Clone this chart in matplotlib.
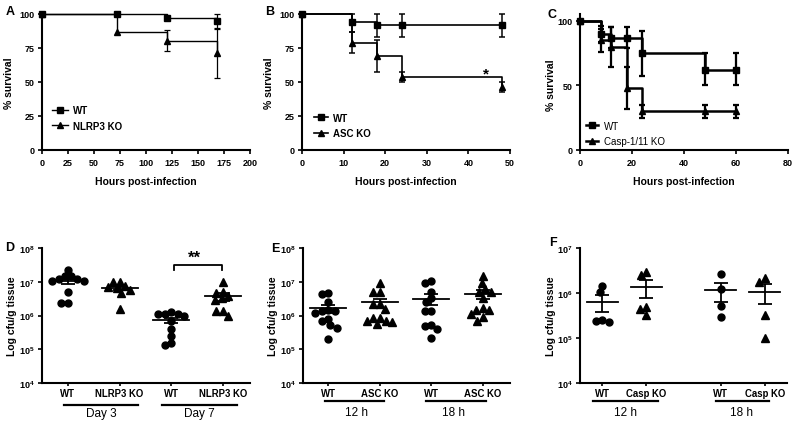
import numpy as np
import matplotlib
matplotlib.use('Agg')
import matplotlib.pyplot as plt
from matplotlib.lines import Line2D
from matplotlib.ticker import NullLocator

plt.rcParams['font.family'] = ['Liberation Sans', 'DejaVu Sans']
plt.rcParams['mathtext.fontset'] = 'custom'
plt.rcParams['mathtext.rm'] = 'Liberation Sans'
plt.rcParams['mathtext.bf'] = 'Liberation Sans:bold'
plt.rcParams['mathtext.it'] = 'Liberation Sans:italic'

# ---------------- data ----------------
# Panel A: NLRP3 survival
a_wt_t = [0, 72, 120, 168]
a_wt_s = [100, 100, 97, 95]
a_wt_lo = [100, 100, 97, 90]
a_wt_hi = [100, 100, 97, 100]
a_ko_t = [0, 72, 120, 168]
a_ko_s = [100, 87, 80.5, 71]
a_ko_lo = [100, 87, 73, 53]
a_ko_hi = [100, 87, 88.5, 89]
a_xticks = [0, 25, 50, 75, 100, 125, 150, 175, 200]

# Panel B: ASC survival
b_wt_t = [0, 12, 18, 24, 48]
b_wt_s = [100, 94, 92, 92, 92]
b_wt_lo = [100, 87, 83, 83, 83]
b_wt_hi = [100, 100, 100, 100, 100]
b_ko_t = [0, 12, 18, 24, 48]
b_ko_s = [100, 79, 69, 54, 46]
b_ko_lo = [100, 71, 57, 50, 43]
b_ko_hi = [100, 87, 81, 57, 50]
b_xticks = [0, 10, 20, 30, 40, 50]

# Panel C: Casp-1/11 survival
c_wt_t = [0, 8, 12, 18, 24, 48, 60]
c_wt_s = [100, 90, 87, 87, 75, 62, 62]
c_wt_lo = [100, 84, 79, 79, 57, 50, 50]
c_wt_hi = [100, 96, 95, 95, 92, 75, 75]
c_ko_t = [0, 8, 12, 18, 24, 48, 60]
c_ko_s = [100, 85, 80, 48, 30, 30, 30]
c_ko_lo = [100, 76, 64.5, 32, 25, 25, 25]
c_ko_hi = [100, 94, 95, 64.5, 35, 35, 35]
c_xticks = [0, 20, 40, 60, 80]

# Panel D: bacterial burden, NLRP3
d_labels = ['WT', 'NLRP3 KO', 'WT', 'NLRP3 KO']
d_groups = ['Day 3', 'Day 7']
d_wt3 = [2.2e7, 1.47e7, 1.17e7, 1.05e7, 1.05e7, 1.17e7, 1.47e7, 4.9e6, 2.4e6, 2.4e6]
d_ko3 = [1.0e7, 1.0e7, 7.1e6, 7.6e6, 6.6e6, 5.6e6, 4.7e6, 1.6e6]
d_wt7 = [1.12e6, 1.12e6, 1.26e6, 1.0e6, 1.12e6, 6.9e5, 4.1e5, 2.5e5, 1.35e5, 1.5e5]
d_ko7 = [1.0e7, 4.7e6, 5.0e6, 3.8e6, 3.2e6, 2.9e6, 1.4e6, 1.35e6, 1.0e6]

# Panel E: bacterial burden, ASC
e_labels = ['WT', 'ASC KO', 'WT', 'ASC KO']
e_groups = ['12 h', '18 h']
e_wt12 = [4.7e6, 4.4e6, 2.45e6, 1.35e6, 1.41e6, 1.17e6, 1.35e6, 7.9e5, 6.8e5, 5.1e5, 4.4e5, 1.95e5]
e_ko12 = [9.1e6, 4.9e6, 4.9e6, 2.2e6, 1.6e6, 2.2e6, 8.5e5, 7.1e5, 5.6e5, 6.3e5, 7.1e5, 8.5e5]
e_wt18 = [1.07e7, 9.1e6, 5.1e6, 3.2e6, 2.45e6, 1.32e6, 1.32e6, 4.9e5, 5.1e5, 3.9e5, 2.2e5]
e_ko18 = [1.5e7, 9.5e6, 5.1e6, 5.1e6, 6.3e6, 3.2e6, 1.66e6, 1.41e6, 1.5e6, 1.12e6, 8.9e5, 6.8e5]

# Panel F: bacterial burden, Casp-1/11
f_labels = ['WT', 'Casp KO', 'WT', 'Casp KO']
f_groups = ['12 h', '18 h']
f_wt12 = [1.45e6, 1.05e6, 2.45e5, 2.3e5, 2.35e5]
f_ko12 = [2.45e6, 3.0e6, 3.3e5, 4.9e5, 4.4e5]
f_wt18 = [2.6e6, 1.23e6, 5.2e5, 3.0e5]
f_ko18 = [1.75e6, 2.15e6, 3.2e5, 9.8e4]

# ---------------- layout ----------------
W, H = 800, 427
fig = plt.figure(figsize=(W / 100, H / 100), dpi=100)


def rect(x0, x1, ytop, ybot):
    return [x0 / W, (H - ybot) / H, (x1 - x0) / W, (ybot - ytop) / H]


def fx(px):
    return px / W


def fy(py):
    return (H - py) / H


TICK_FS = 6.5
LAB_FS = 7.5


def style_axes(ax):
    for s in ['top', 'right']:
        ax.spines[s].set_visible(False)
    for s in ['left', 'bottom']:
        ax.spines[s].set_linewidth(1.5)
    ax.tick_params(direction='out', length=3, width=1.2, labelsize=TICK_FS, pad=2.5)
    for lab in ax.get_xticklabels() + ax.get_yticklabels():
        lab.set_fontweight('bold')


def survival(ax, t, s, lo, hi, marker, ms, lw, z):
    ax.step(t, s, where='post', color='k', lw=lw, zorder=z, clip_on=False)
    t = np.asarray(t, float); s = np.asarray(s, float)
    lo = np.asarray(lo, float); hi = np.asarray(hi, float)
    m = hi > lo
    ax.errorbar(t[m], s[m], yerr=[s[m] - lo[m], hi[m] - s[m]], fmt='none',
                ecolor='k', elinewidth=lw * 0.9, capsize=2.5, capthick=lw * 0.9,
                zorder=z, clip_on=False)
    ax.plot(t, s, marker, color='k', ms=ms, ls='none', zorder=z + 1, clip_on=False)


def legend(ax, labels, markers, ms, lw, x_px, y_mid_px, bold, hl=1.4):
    handles = [Line2D([], [], color='k', lw=lw, marker=mk, ms=ms) for mk in markers]
    ax.legend(handles, labels, loc='center left', frameon=False,
              bbox_to_anchor=(fx(x_px), fy(y_mid_px)), bbox_transform=fig.transFigure,
              borderpad=0, borderaxespad=0, handlelength=hl, handletextpad=0.6,
              labelspacing=0.55,
              prop={'size': 7, 'weight': 'bold' if bold else 'normal'})


# ---- Panel A ----
axA = fig.add_axes(rect(42, 250, 15, 151))
axA.set_xlim(0, 200); axA.set_ylim(0, 100)
axA.set_xticks(a_xticks); axA.set_yticks([0, 25, 50, 75, 100])
survival(axA, a_ko_t, a_ko_s, a_ko_lo, a_ko_hi, '^', 4.2, 1.0, 3)
survival(axA, a_wt_t, a_wt_s, a_wt_lo, a_wt_hi, 's', 4.0, 1.0, 5)
style_axes(axA)
legend(axA, ['WT', 'NLRP3 KO'], ['s', '^'], 4.2, 1.0, 52, 119, True, hl=1.6)

# ---- Panel B ----
axB = fig.add_axes(rect(302, 510, 15, 151))
axB.set_xlim(0, 50); axB.set_ylim(0, 100)
axB.set_xticks(b_xticks); axB.set_yticks([0, 25, 50, 75, 100])
survival(axB, b_ko_t, b_ko_s, b_ko_lo, b_ko_hi, '^', 3.8, 1.2, 3)
survival(axB, b_wt_t, b_wt_s, b_wt_lo, b_wt_hi, 's', 4.2, 1.2, 5)
axB.text(44.2, 56, '*', ha='center', va='center', fontsize=11, fontweight='bold')
style_axes(axB)
legend(axB, ['WT', 'ASC KO'], ['s', '^'], 4.2, 1.2, 314, 126.5, True)

# ---- Panel C ----
axC = fig.add_axes(rect(580, 788, 15, 151))
axC.set_xlim(0, 80); axC.set_ylim(0, 105.4)
axC.set_xticks(c_xticks); axC.set_yticks([0, 50, 100])
survival(axC, c_ko_t, c_ko_s, c_ko_lo, c_ko_hi, '^', 4.3, 1.8, 3)
survival(axC, c_wt_t, c_wt_s, c_wt_lo, c_wt_hi, 's', 4.6, 1.8, 5)
style_axes(axC)
legend(axC, ['WT', 'Casp-1/11 KO'], ['s', '^'], 4.5, 1.8, 586, 134.5, False, hl=1.2)

for ax, (xc, yc), (lx, ly) in [(axA, (146, 182), (9, 83)),
                                (axB, (406, 182), (269.5, 83)),
                                (axC, (684, 182), (551, 85))]:
    fig.text(fx(xc), fy(yc), 'Hours post-infection', ha='center', va='center',
             fontsize=LAB_FS, fontweight='bold')
    fig.text(fx(lx), fy(ly), '% survival', ha='center', va='center', rotation=90,
             fontsize=LAB_FS, fontweight='bold')


# ---- scatter panels ----
def swarm_x(ax, xc, vals, diam):
    vals = np.asarray(vals, float)
    xy = ax.transData.transform(np.column_stack([np.full(len(vals), xc), vals]))
    ys = xy[:, 1]
    x0 = xy[0, 0]
    order = np.argsort(-ys, kind='stable')
    placed = []
    offs = np.zeros(len(vals))
    for i in order:
        y = ys[i]
        cands = [0.0]
        for px, py in placed:
            dy = abs(py - y)
            if dy < diam:
                dx = np.sqrt(diam ** 2 - dy ** 2)
                cands += [px + dx, px - dx]
        cands = sorted(cands, key=lambda c: (round(abs(c), 6), c))
        for c in cands:
            if all((c - px) ** 2 + (y - py) ** 2 >= diam ** 2 - 1e-6 for px, py in placed):
                offs[i] = c
                placed.append((c, y))
                break
    out = ax.transData.inverted().transform(np.column_stack([x0 + offs, ys]))
    return out[:, 0]


def dot_panel(ax, positions, series, markers, ymin, ymax, xlim, labels,
              groups, group_spans, group_text_x, line_y, text_y):
    ax.set_yscale('log')
    ax.set_xlim(*xlim)
    ax.set_ylim(ymin, ymax)
    decs = np.arange(int(np.log10(ymin)), int(np.log10(ymax)) + 1)
    ax.set_yticks([10.0 ** d for d in decs])
    ax.set_yticklabels([r'$\mathbf{10^{%d}}$' % d for d in decs])
    ax.yaxis.set_minor_locator(NullLocator())
    ax.set_xticks(positions)
    ax.set_xticklabels(labels)
    style_axes(ax)
    ax.tick_params(axis='x', length=2.5, pad=1.3, labelsize=6.9)
    for xc, vals, mk in zip(positions, series, markers):
        xs = swarm_x(ax, xc, vals, 6.7)
        ax.plot(xs, vals, mk, color='k', ms=5.0 if mk == 'o' else 5.3, ls='none',
                zorder=3, clip_on=False)
        v = np.asarray(vals, float)
        mean = v.mean()
        sem = v.std(ddof=1) / np.sqrt(len(v))
        ax.plot([xc - 0.35, xc + 0.35], [mean, mean], color='k', lw=1.3, zorder=4)
        ax.errorbar([xc], [mean], yerr=[[sem], [sem]], fmt='none', ecolor='k',
                    elinewidth=1.3, capsize=5, capthick=1.3, zorder=4)
    tr = ax.get_xaxis_transform()
    for (x0, x1), tx, g in zip(group_spans, group_text_x, groups):
        ax.plot([x0, x1], [line_y, line_y], color='k', lw=1.6, transform=tr,
                clip_on=False)
        ax.text(tx, text_y, g, transform=tr, ha='center', va='center', fontsize=8.5)


axD = fig.add_axes(rect(42, 250, 249, 384))
dot_panel(axD, [0, 1, 2, 3], [d_wt3, d_ko3, d_wt7, d_ko7], ['o', '^', 'o', '^'],
          1e4, 1e8, (-0.5, 3.52), d_labels, d_groups,
          [(-0.08, 1.35), (1.82, 3.27)], [0.64, 2.54], -0.165, -0.224)
br_lo, br_hi = 10 ** 7.36, 10 ** 7.51
axD.plot([2.05, 2.05, 2.97, 2.97], [br_lo, br_hi, br_hi, br_lo], color='k', lw=1.3)
axD.text(2.45, 10 ** 7.72, '**', ha='center', va='center', fontsize=12, fontweight='bold')

axE = fig.add_axes(rect(303, 510, 249, 384))
dot_panel(axE, [0, 1, 2, 3], [e_wt12, e_ko12, e_wt18, e_ko18], ['o', '^', 'o', '^'],
          1e4, 1e8, (-0.49, 3.53), e_labels, e_groups,
          [(-0.06, 1.09), (1.90, 3.07)], [0.55, 2.44], -0.137, -0.212)

axF = fig.add_axes(rect(580, 787, 249, 384))
dot_panel(axF, [0, 1, 2.67, 3.67], [f_wt12, f_ko12, f_wt18, f_ko18], ['o', '^', 'o', '^'],
          1e4, 1e7, (-0.5, 4.17), f_labels, f_groups,
          [(-0.2, 1.27), (2.57, 3.76)], [0.52, 3.15], -0.137, -0.212)

for lx in [12.5, 272.5, 551.5]:
    fig.text(fx(lx), fy(316), 'Log cfu/g tissue', ha='center', va='center', rotation=90,
             fontsize=LAB_FS, fontweight='bold')

# panel letters
for letter, (px, py) in zip('ABCDEF', [(10, 12), (270, 12), (552, 15),
                                       (10, 248), (275, 249), (553, 243)]):
    fig.text(fx(px), fy(py), letter, ha='center', va='center', fontsize=9,
             fontweight='bold')

fig.savefig('out.png', dpi=100)
